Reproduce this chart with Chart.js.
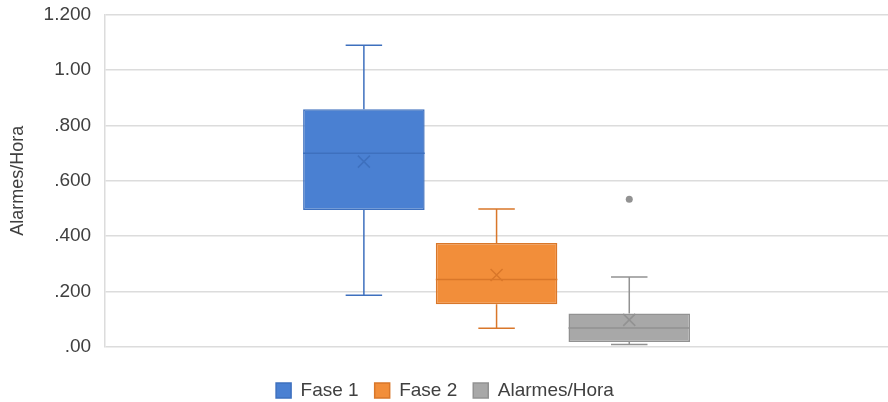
<!DOCTYPE html>
<html>
<head>
<meta charset="utf-8">
<script src="https://cdn.jsdelivr.net/npm/chart.js@4.4.1/dist/chart.umd.min.js"></script>
<style>
  html, body { margin: 0; padding: 0; background: #fff; }
  #wrap { width: 888px; height: 402px; }
</style>
</head>
<body>
<div id="wrap"><canvas id="myChart"></canvas></div>
<script>
// box plot values
const seriesNames = ['Fase 1', 'Fase 2', 'Alarmes/Hora'];
const mins    = [0.187, 0.068, 0.009];
const q1s     = [0.494, 0.154, 0.018];
const medians = [0.699, 0.244, 0.069];
const q3s     = [0.858, 0.375, 0.121];
const maxs    = [1.089, 0.498, 0.253];
const means   = [0.669, 0.260, 0.098];
const outliers = [[], [], [0.533]];
const yTickLabels = ['.00', '.200', '.400', '.600', '.800', '1.00', '1.200'];

const fills   = ['#4a80d2', '#f28e3a', '#a8a8a8'];
const strokes = ['#3e70be', '#d9772a', '#929292'];

// whiskers, medians, means and outliers drawn from the y scale
const boxExtras = {
    id: 'boxExtras',
    afterDatasetsDraw(chart) {
        const ctx = chart.ctx;
        const y = chart.scales.y;
        chart.data.datasets.forEach((ds, i) => {
            const bar = chart.getDatasetMeta(i).data[0];
            if (!bar) return;
            const cx = bar.x;
            const half = bar.width / 2;
            const cap = bar.width * 0.15;
            ctx.save();
            ctx.strokeStyle = strokes[i];
            ctx.lineWidth = 1.5;
            ctx.beginPath();
            ctx.moveTo(cx, y.getPixelForValue(q3s[i]));
            ctx.lineTo(cx, y.getPixelForValue(maxs[i]));
            ctx.moveTo(cx - cap, y.getPixelForValue(maxs[i]));
            ctx.lineTo(cx + cap, y.getPixelForValue(maxs[i]));
            ctx.moveTo(cx, y.getPixelForValue(q1s[i]));
            ctx.lineTo(cx, y.getPixelForValue(mins[i]));
            ctx.moveTo(cx - cap, y.getPixelForValue(mins[i]));
            ctx.lineTo(cx + cap, y.getPixelForValue(mins[i]));
            ctx.stroke();

            // median
            ctx.beginPath();
            ctx.moveTo(cx - half, y.getPixelForValue(medians[i]));
            ctx.lineTo(cx + half, y.getPixelForValue(medians[i]));
            ctx.stroke();

            // mean cross
            const my = y.getPixelForValue(means[i]);
            const s = 6;
            ctx.beginPath();
            ctx.moveTo(cx - s, my - s);
            ctx.lineTo(cx + s, my + s);
            ctx.moveTo(cx + s, my - s);
            ctx.lineTo(cx - s, my + s);
            ctx.stroke();

            // outliers
            ctx.fillStyle = strokes[i];
            outliers[i].forEach(v => {
                ctx.beginPath();
                ctx.arc(cx, y.getPixelForValue(v), 3.5, 0, Math.PI * 2);
                ctx.fill();
            });
            ctx.restore();
        });
    }
};

new Chart(document.getElementById('myChart'), {
    type: 'bar',
    data: {
        labels: [''],
        datasets: seriesNames.map((name, i) => ({
            label: name,
            data: [[q1s[i], q3s[i]]],
            backgroundColor: fills[i],
            borderColor: strokes[i],
            borderWidth: 1.5,
            borderSkipped: false
        }))
    },
    options: {
        responsive: true,
        maintainAspectRatio: false,
        animation: false,
        datasets: {
            bar: { categoryPercentage: 0.5085, barPercentage: 0.916 }
        },
        layout: { padding: { top: 0, right: 0, bottom: -8, left: 2 } },
        scales: {
            x: {
                display: true,
                ticks: { display: false },
                grid: { display: false },
                border: { display: false },
                afterFit: (s) => { s.height = 18; }
            },
            y: {
                min: 0,
                max: 1.2,
                ticks: {
                    stepSize: 0.2,
                    padding: 5,
                    color: '#404040',
                    font: { family: 'Liberation Sans', size: 19, lineHeight: 1 },
                    callback: (v, idx) => yTickLabels[idx]
                },
                grid: { color: '#dcdcdc', lineWidth: 1.5, drawTicks: true, tickLength: 9, tickColor: 'rgba(0,0,0,0)' },
                border: { display: true, color: '#dcdcdc', width: 1.5 },
                title: {
                    display: true,
                    text: 'Alarmes/Hora',
                    color: '#404040',
                    font: { family: 'Liberation Sans', size: 18 },
                    padding: { top: 5, bottom: 10 }
                }
            }
        },
        plugins: {
            legend: {
                position: 'bottom',
                labels: {
                    boxWidth: 15,
                    boxHeight: 15,
                    padding: 16,
                    color: '#404040',
                    font: { family: 'Liberation Sans', size: 19 }
                }
            },
            tooltip: { enabled: false }
        }
    },
    plugins: [boxExtras]
});
</script>
</body>
</html>
